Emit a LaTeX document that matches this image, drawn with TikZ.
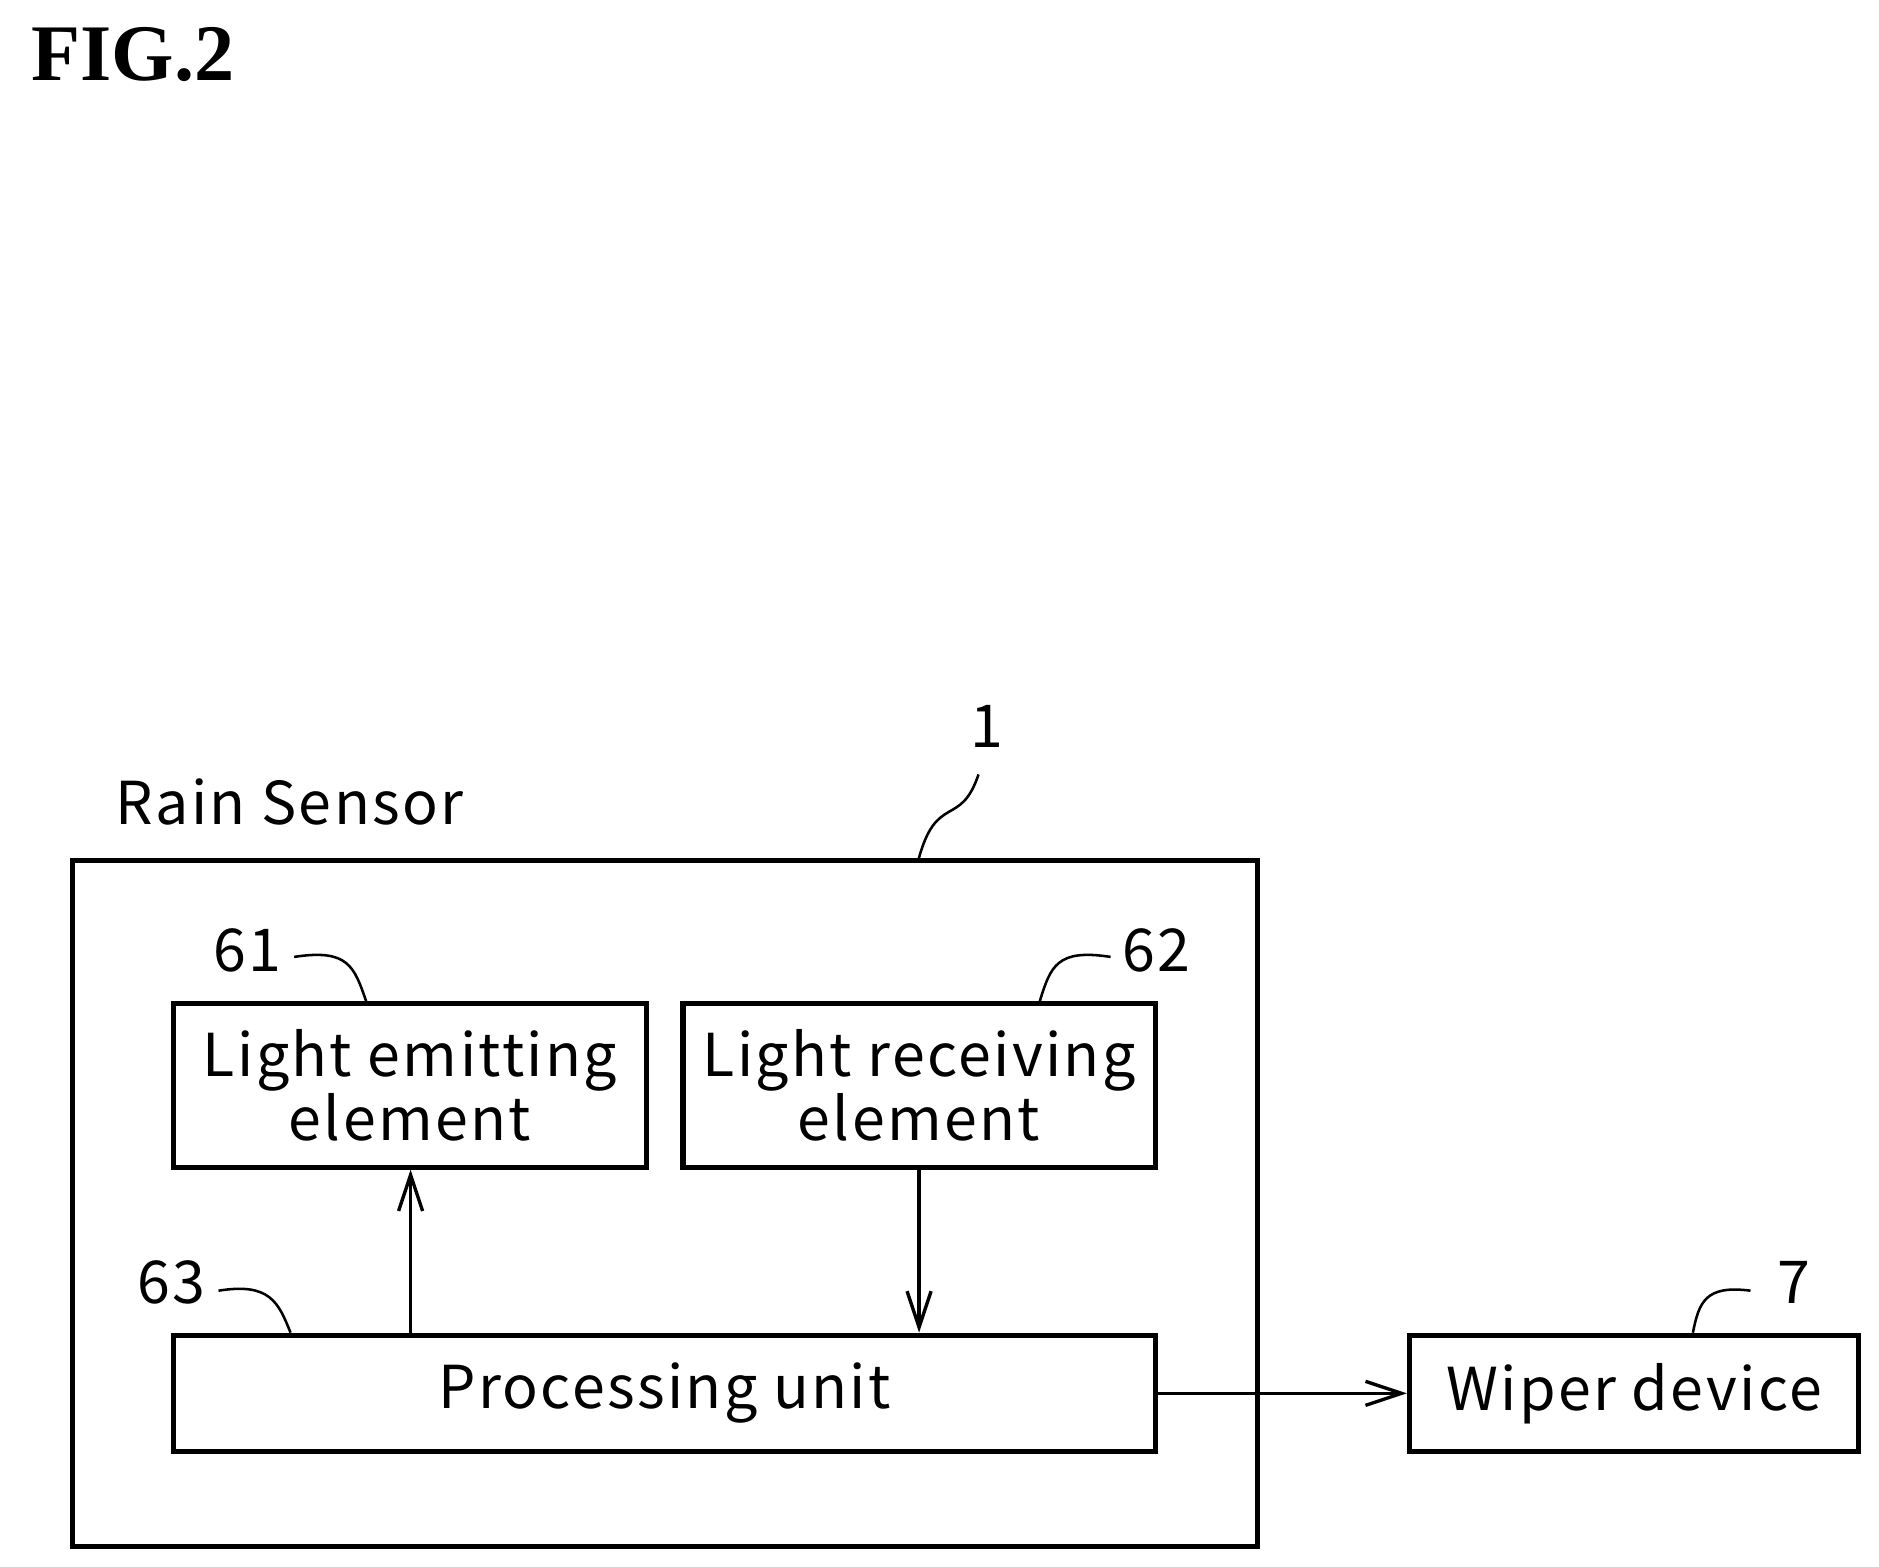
\documentclass[tikz,border=0pt]{standalone}
\usepackage{fontspec}
\setmainfont{Noto Sans CJK JP}[LetterSpace=4]
\newfontfamily\figfont{Liberation Serif}
\usetikzlibrary{arrows.meta}
\begin{document}
\begin{tikzpicture}[x=0.01cm,y=-0.01cm,
  box/.style={draw,line width=1.2pt,inner sep=0pt,align=center,font=\fontsize{14}{15}\selectfont},
  lbl/.style={font=\fontsize{14}{16}\selectfont},
  num/.style={font=\fontsize{14}{16}\selectfont},
  lead/.style={line width=0.6pt},
  arr/.style={line width=0.8pt,-{Straight Barb[length=3mm,width=2mm]}}]
\useasboundingbox (0,0) rectangle (1565,1305);
\node[font=\figfont\bfseries\fontsize{19}{22}\selectfont, anchor=west] (fig) at (14,45) {FIG.2};
\draw[line width=1.2pt] (60,717) rectangle (1047,1288);
\node[lbl,anchor=west] (rs) at (84,668) {Rain Sensor};
\node[box,minimum width=3.93cm,minimum height=1.36cm] (le) at (341.5,904) {Light emitting\\element};
\node[box,minimum width=3.93cm,minimum height=1.36cm] (lr) at (765.5,904) {Light receiving\\element};
\node[box,minimum width=8.17cm,minimum height=0.97cm] (pu) at (553.5,1160.5) {Processing unit};
\node[box,minimum width=3.74cm,minimum height=0.97cm] (wd) at (1361,1160.5) {Wiper device};
\node[num] (n1) at (822,605) {1};
\node[num] (n61) at (206,792) {61};
\node[num] (n62) at (963,792) {62};
\node[num] (n63) at (143,1068) {63};
\node[num] (n7) at (1494,1068) {7};
\draw[lead] (815,645) .. controls (800,690) and (780,660) .. (765,716);
\draw[lead] (245,797) .. controls (290,790) and (295,805) .. (305,834);
\draw[lead] (925,797) .. controls (880,790) and (875,805) .. (866,834);
\draw[lead] (182,1075) .. controls (225,1068) and (232,1085) .. (242,1110);
\draw[lead] (1458,1075) .. controls (1420,1070) and (1415,1085) .. (1410,1110);
\draw[arr] (pu.north -| 342,0) -- (le.south -| 342,0);
\draw[arr] (lr.south) -- (pu.north -| lr.south);
\draw[arr] (pu.east) -- (wd.west);
\end{tikzpicture}
\end{document}
